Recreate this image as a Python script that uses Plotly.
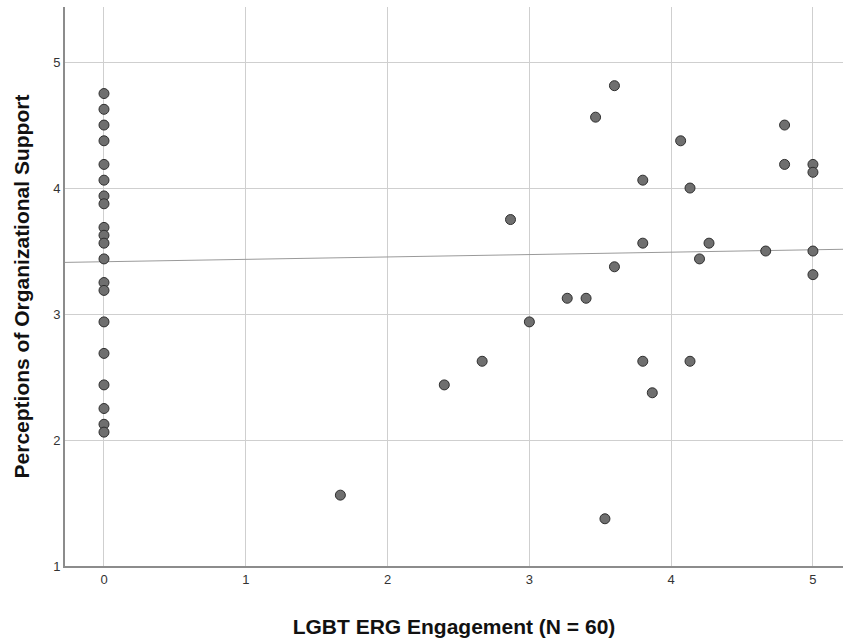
import plotly.graph_objects as go
import numpy as np

# x = 0 column (non-participants)
zero_x = [0] * 20
zero_y = [4.75, 4.625, 4.5, 4.375, 4.1875, 4.0625, 3.9375, 3.875, 3.6875, 3.625,
          3.5625, 3.4375, 3.25, 3.1875, 2.9375, 2.6875, 2.4375, 2.25, 2.125, 2.0625]

# engaged participants
eng_x = [3.600, 3.467, 4.800, 4.067, 4.800, 5.000, 5.000, 3.800, 4.133, 2.867,
         3.800, 4.267, 4.667, 5.000, 4.200, 3.600, 5.000, 3.267, 3.400, 3.000,
         2.667, 2.400, 3.800, 3.867, 4.133, 1.667, 3.533]
eng_y = [4.8125, 4.5625, 4.5, 4.375, 4.1875, 4.1875, 4.125, 4.0625, 4.0, 3.75,
         3.5625, 3.5625, 3.5, 3.5, 3.4375, 3.375, 3.3125, 3.125, 3.125, 2.9375,
         2.625, 2.4375, 2.625, 2.375, 2.625, 1.5625, 1.375]

# linear fit
fit_intercept = 3.415
fit_slope = 0.019

x_ticks = [0, 1, 2, 3, 4, 5]
y_ticks = [1, 2, 3, 4, 5]
x_range = [-0.275, 5.212]
y_range = [1, 5.437]

all_x = zero_x + eng_x
all_y = zero_y + eng_y

fig = go.Figure()
fx = np.array(x_range)
fig.add_trace(go.Scatter(x=fx, y=fit_intercept + fit_slope * fx, mode="lines",
                         line=dict(color="#9a9a9a", width=1), hoverinfo="skip",
                         showlegend=False))
fig.add_trace(go.Scatter(x=all_x, y=all_y, mode="markers",
                         marker=dict(size=10, color="#6f6f6f",
                                     line=dict(color="#2f2f2f", width=1)),
                         showlegend=False))

fig.update_layout(
    width=843, height=639,
    margin=dict(l=65, r=0, t=7, b=73),
    plot_bgcolor="white", paper_bgcolor="white",
    font=dict(family="Liberation Sans, Arial, sans-serif", color="#222"),
    xaxis=dict(range=x_range, tickvals=x_ticks, showgrid=True, gridcolor="#cfcfcf",
               gridwidth=1.3, zeroline=False, showline=True, linecolor="#8c8c8c",
               linewidth=2, ticks="", tickfont=dict(size=13, color="#333333"),
               title=dict(text="<b>LGBT ERG Engagement (N = 60)</b>",
                          font=dict(size=21, color="#111111"), standoff=34)),
    yaxis=dict(range=y_range, tickvals=y_ticks, showgrid=True, gridcolor="#cfcfcf",
               gridwidth=1.3, zeroline=False, showline=True, linecolor="#8c8c8c",
               linewidth=2, ticks="", tickfont=dict(size=13, color="#333333"),
               title=dict(text="<b>Perceptions of Organizational Support</b>",
                          font=dict(size=21, color="#111111"), standoff=18)),
)

fig.write_html("out.html", config={"displayModeBar": False},
               post_script="document.body.style.margin='0';document.body.style.overflow='hidden';")
